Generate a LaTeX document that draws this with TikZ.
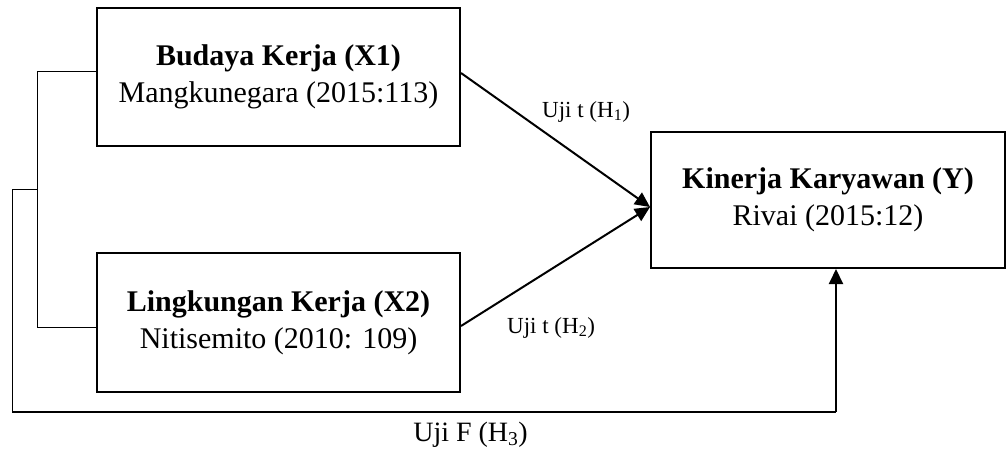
\documentclass[tikz,border=0pt]{standalone}
\usepackage{fontspec}
\setmainfont{Liberation Serif}
\usetikzlibrary{arrows.meta}
\begin{document}
\begin{tikzpicture}[x=1pt,y=-1pt,
  varbox/.style={draw,line width=2pt,align=center,inner sep=0pt,
    font=\fontsize{30}{37}\selectfont},
  thin/.style={line width=1pt},
  arr/.style={line width=2pt,-{Triangle[length=15pt,width=14pt]}},
  lbl/.style={inner sep=0pt,font=\fontsize{23}{27}\selectfont},
  lblbig/.style={inner sep=0pt,font=\fontsize{28}{33}\selectfont}]
\useasboundingbox (0,0) rectangle (1007,453);
\node[varbox,minimum width=363pt,minimum height=138pt] (x1) at (278.5,77)
  {\textbf{Budaya Kerja (X1)}\\Mangkunegara (2015:113)};
\node[varbox,minimum width=363pt,minimum height=139pt] (x2) at (278.5,322.5)
  {\textbf{Lingkungan Kerja (X2)}\\Nitisemito (2010: 109)};
\node[varbox,minimum width=354pt,minimum height=136pt] (y) at (828,200)
  {\textbf{Kinerja Karyawan (Y)}\\Rivai (2015:12)};
% arrows
\draw[arr] ([yshift=4pt]x1.east) -- ([yshift=-7pt]y.west);
\draw[arr] ([yshift=-3.5pt]x2.east) -- ([yshift=-7pt]y.west);
% bracket
\coordinate (bt) at (37,71);
\coordinate (bb) at (37,327);
\coordinate (bm) at (37,189);
\coordinate (om) at (12,189);
\coordinate (ob) at (12,412);
\coordinate (rb) at (836,412);
\draw[thin] ([yshift=6pt]x1.west) -- (bt) -- (bb) -- ([yshift=-4.5pt]x2.west);
\draw[thin] (bm) -- (om) -- (ob);
\draw[line width=2pt] (ob) -- (rb);
\draw[arr] (rb) -- (y.south -| rb);
% labels
\node[lbl,anchor=base west] (l1) at (542,117) {Uji t (H\textsubscript{1})};
\node[lbl,anchor=base west] (l2) at (507,333) {Uji t (H\textsubscript{2})};
\node[lblbig,anchor=base east] (l3) at (528,441) {Uji F (H\textsubscript{3})};
\end{tikzpicture}
\end{document}
